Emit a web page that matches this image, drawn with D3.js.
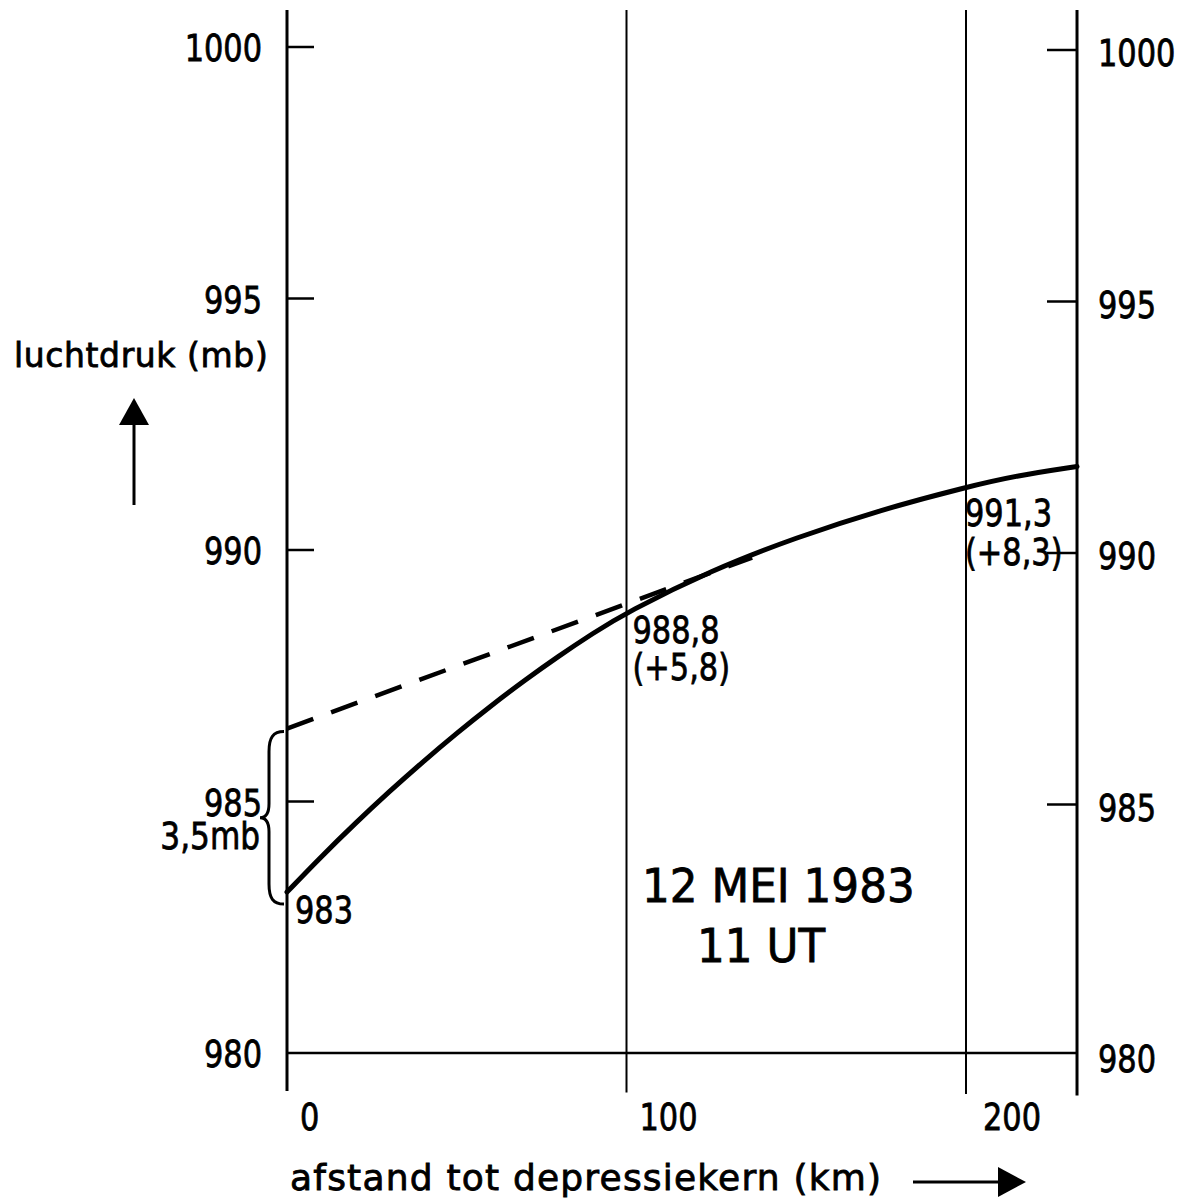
<!DOCTYPE html>
<html>
<head>
<meta charset="utf-8">
<script src="https://cdn.jsdelivr.net/npm/d3@7"></script>
<style>
  html, body { margin: 0; padding: 0; background: #fff; }
  svg { display: block; }
  text { font-family: "DejaVu Sans", "Liberation Sans", sans-serif; fill: #000; stroke: #000; stroke-width: 0.8; white-space: pre; }
</style>
</head>
<body>
<svg id="chart" width="1194" height="1204"></svg>
<script>
// ---- data ----
const xTicks = [0, 100, 200];
const xTickLabels = ["0", "100", "200"];
const yTicks = [980, 985, 990, 995, 1000];
const yTickLabels = ["980", "985", "990", "995", "1000"];
const distanceKm = [0, 10, 20, 30, 40, 50, 60, 70, 80, 90, 100, 125, 150, 175, 200, 215, 232.7];
const pressureMb = [983.2, 983.9, 984.56, 985.19, 985.79, 986.36, 986.9, 987.41, 987.89, 988.34, 988.76, 989.6, 990.25, 990.8, 991.25, 991.48, 991.66];
const extrapolKm = [0, 137];
const extrapolMb = [986.45, 989.85];
const pointLabels = [
  { km: 0, mb: 983, lines: ["983"] },
  { km: 100, mb: 988.8, lines: ["988,8", "(+5,8)"] },
  { km: 200, mb: 991.3, lines: ["991,3", "(+8,3)"] }
];
const yTitle = "luchtdruk (mb)";
const xTitle = "afstand tot depressiekern (km)";
const dateLine1 = "12 MEI 1983";
const dateLine2 = "11 UT";
const braceLabel = "3,5mb";
const xMax = 232.7;

// ---- scales ----
const svg = d3.select("#chart");
const x = d3.scaleLinear().domain([0, 200]).range([287, 966]);
const y = d3.scaleLinear().domain([980, 1000]).range([1053, 47]);

const topY = 10, botY = 1091;

function txt(g, px, py, s, size, anchor, sx, ls) {
  const t = g.append("text")
    .attr("transform", `translate(${px},${py}) scale(${sx},1)`)
    .attr("font-size", size)
    .attr("text-anchor", anchor)
    .text(s);
  if (ls) t.attr("letter-spacing", ls);
  return t;
}

// ---- vertical grid / axes ----
const vlines = [0, 100, 200, xMax];
svg.append("g").selectAll("line").data(vlines).join("line")
  .attr("x1", d => x(d)).attr("x2", d => x(d))
  .attr("y1", topY).attr("y2", (d, i) => botY + i * 1.5)
  .attr("stroke", "#000")
  .attr("stroke-width", (d, i) => (i === 0 || i === 3) ? 3 : 2);

// baseline at 980
svg.append("line")
  .attr("x1", x(0)).attr("x2", x(xMax))
  .attr("y1", y(980)).attr("y2", y(980))
  .attr("stroke", "#000").attr("stroke-width", 2.5);

// left ticks
const gl = svg.append("g");
gl.selectAll("line").data(yTicks.filter(d => d !== 980)).join("line")
  .attr("x1", x(0)).attr("x2", x(0) + 27)
  .attr("y1", d => y(d)).attr("y2", d => y(d))
  .attr("stroke", "#000").attr("stroke-width", 2.5);
yTicks.forEach((d, i) => txt(gl, 262, y(d) + 14, yTickLabels[i], 38, "end", 0.8));

// right ticks
const gr = svg.append("g");
gr.selectAll("line").data(yTicks.filter(d => d !== 980)).join("line")
  .attr("x1", x(xMax) - 30).attr("x2", x(xMax))
  .attr("y1", d => y(d) + 3).attr("y2", d => y(d) + 3)
  .attr("stroke", "#000").attr("stroke-width", 2.5);
yTicks.forEach((d, i) => txt(gr, 1098, y(d) + 19, yTickLabels[i], 38, "start", 0.8));

// x tick labels
const gx = svg.append("g");
xTicks.forEach((d, i) => txt(gx, x(d) + 13 + (i === 2 ? 4 : 0), 1130, xTickLabels[i], 38, "start", 0.8));

// ---- curves ----
const solid = distanceKm.map((d, i) => [d, pressureMb[i]]);
const line = d3.line().x(d => x(d[0])).y(d => y(d[1])).curve(d3.curveBasis);
svg.append("path").attr("d", line(solid))
  .attr("fill", "none").attr("stroke", "#000").attr("stroke-width", 5)
  .attr("stroke-linecap", "round");

const dashed = extrapolKm.map((d, i) => [d, extrapolMb[i]]);
svg.append("path").attr("d", d3.line().x(d => x(d[0])).y(d => y(d[1]))(dashed))
  .attr("fill", "none").attr("stroke", "#000").attr("stroke-width", 4.5)
  .attr("stroke-dasharray", "28,19");

// ---- point labels ----
const gp = svg.append("g");
const offs = [[8, 21, 0], [6, 33, 37], [-1, 41, 39]];
pointLabels.forEach((p, i) => {
  p.lines.forEach((s, j) => {
    txt(gp, x(p.km) + offs[i][0], y(p.mb) + offs[i][1] + j * offs[i][2], s, 38, "start", 0.8);
  });
});

// ---- brace for 3,5 mb ----
const bTop = y(extrapolMb[0]) + 3, bBot = y(pressureMb[0]) + 12;
const bMid = (bTop + bBot) / 2;
const bx = x(0) - 3;
svg.append("path")
  .attr("d", `M ${bx} ${bTop} C ${bx - 11} ${bTop}, ${bx - 15} ${bTop + 6}, ${bx - 15} ${bTop + 20}
    L ${bx - 15} ${bMid - 14} C ${bx - 15} ${bMid - 4}, ${bx - 19} ${bMid}, ${bx - 24} ${bMid}
    C ${bx - 19} ${bMid}, ${bx - 15} ${bMid + 4}, ${bx - 15} ${bMid + 14}
    L ${bx - 15} ${bBot - 20} C ${bx - 15} ${bBot - 6}, ${bx - 11} ${bBot}, ${bx} ${bBot}`)
  .attr("fill", "none").attr("stroke", "#000").attr("stroke-width", 3);
txt(svg, 260, 849, braceLabel, 38, "end", 0.82);

// ---- axis titles & arrows ----
txt(svg, 14, 367, yTitle, 33, "start", 1, 0.6);
svg.append("line").attr("x1", 134).attr("x2", 134).attr("y1", 420).attr("y2", 505)
  .attr("stroke", "#000").attr("stroke-width", 3);
svg.append("path").attr("d", "M134,398 L149,425 L119,425 Z").attr("fill", "#000");

txt(svg, 290, 1190, xTitle, 36, "start", 1, 1.2);
svg.append("line").attr("x1", 913).attr("x2", 1004).attr("y1", 1182).attr("y2", 1182)
  .attr("stroke", "#000").attr("stroke-width", 3);
svg.append("path").attr("d", "M1026,1182 L998,1167 L998,1197 Z").attr("fill", "#000");

// ---- date text ----
txt(svg, 642, 902, dateLine1, 46, "start", 0.95);
txt(svg, 697, 962, dateLine2, 46, "start", 0.95);
</script>
</body>
</html>
